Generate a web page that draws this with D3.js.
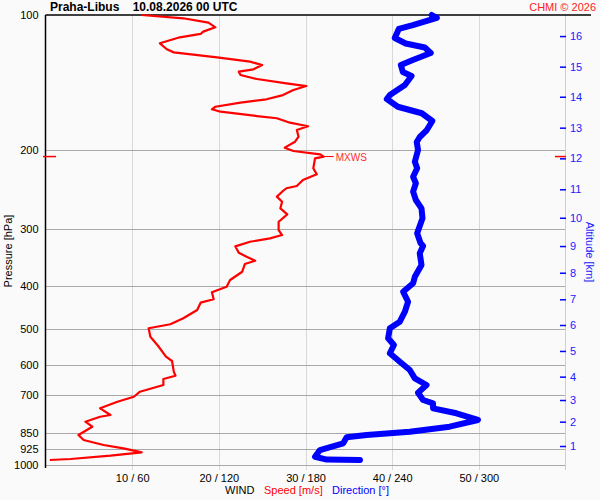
<!DOCTYPE html>
<html>
<head>
<meta charset="utf-8">
<script src="https://cdn.jsdelivr.net/npm/d3@7/dist/d3.min.js"></script>
<style>
  body { margin:0; background:#fafafa; }
  svg { display:block; font-family:"Liberation Sans", Arial, sans-serif; }
</style>
</head>
<body>
<svg width="600" height="500"></svg>
<script>
// wind speed profile: pressure [hPa] / speed [m/s]
var spdP = [100,101.7,104,106.5,108.9,110.2,112.1,115.6,119.2,121.1,124.2,127,129.2,132.1,133.7,136,138.8,141.9,143.9,146.8,
            150.7,154,156.7,160,162.1,164.1,167.8,169.7,173.6,176.8,180.3,186.5,191.4,197.3,200.7,204.2,206.5,208.4,219.3,226.2,
            232.8,240.1,242.9,247.2,253.6,260.2,269.2,277.6,288.4,300.9,308.7,314,319.5,327.1,338,345,352.2,358.1,372.5,388.6,
            402.2,414,429,436.5,453.2,472.9,487.6,497.7,519.6,545,575.7,588.5,621.6,634.5,645.4,665.5,688.7,706.7,725,749.9,
            776.1,782.9,803.1,823.9,859.7,882,904.9,920.4,939.5,955.9,972.2,977.3];
var spdV = [11.1,15.9,18.8,19.6,18.2,17.9,15.5,13.2,14.0,14.8,19.8,23.6,25.0,24.0,22.3,22.5,24.4,27.8,30.1,28.6,
            27.4,25.5,22.5,19.6,19.2,20.2,24.4,26.7,28.2,30.3,29.0,29.2,28.8,27.6,28.6,31.7,32.1,31.1,30.9,31.3,
            29.7,29.0,27.8,27.3,26.7,27.3,27.1,27.9,26.9,26.9,27.3,25.9,23.6,21.9,22.3,23.2,24.2,23.0,22.7,21.3,
            20.9,19.2,19.4,17.9,17.5,15.9,14.4,11.9,12.1,13.0,13.9,14.6,14.8,15.0,13.6,13.6,10.9,10.2,8.3,6.3,
            7.5,6.3,4.6,5.4,3.8,4.4,6.7,9.0,11.1,7.5,2.9,0.5];

// wind direction profile: pressure [hPa] / direction [deg]
var dirP = [100,101.5,105.3,107.4,112.5,115.7,118.1,121.5,125.9,129.2,133.9,136.7,143.1,150.7,153.8,160,165.4,172.1,180.3,186.8,
            191.7,199.7,212.1,219.3,229,236.8,247.2,258,269.2,283.4,305.9,321.6,326.6,338.9,359.9,382.2,395.3,412.7,434.4,457.2,
            481.2,497.7,524,542.2,565.7,590.6,616.4,643.1,665.5,692.3,718.6,731,749.9,769.3,796.1,823.9,845.3,859.7,869.9,897,
            928.5,960.9,975,977.3];
var dirV = [267.4,270.9,254.3,244.6,241.8,249.4,262.6,266.7,254.3,246.0,247.4,253.4,248.8,238.4,236.3,243.9,260.5,267.8,264.0,259.1,
            257.0,257.9,255.7,257.3,254.5,256.4,254.5,256.4,260.3,261.0,257.3,259.6,261.4,259.1,260.3,255.7,254.5,247.6,251.0,248.8,
            245.3,238.4,237.2,241.2,238.4,245.3,252.2,255.7,263.8,257.9,261.4,268.3,268.3,284.5,299.4,279.8,252.2,222.3,208.5,206.1,
            190.0,186.6,194.7,217.7];

var mxwsP = 206.5, mxwsV = 32.1;

var pTicks = [100,200,300,400,500,600,700,850,925,1000];
var speedTicks = [10,20,30,40,50];
var dirTicks = [60,120,180,240,300];
var altKm = [1,2,3,4,5,6,7,8,9,10,11,12,13,14,15,16];
var altP = [909.6,803,718.7,637.6,559,489.4,429,374.4,326.6,282.5,244.2,208.4,178.1,152,130.3,111.4];

var svg = d3.select("svg");
var pl = 45.5, pr = 565.5, pt = 15, pb = 464.5;
var font = "Liberation Sans, Arial, sans-serif";

var x = d3.scaleLinear().domain([0,60]).range([pl,pr]);
var xd = d3.scaleLinear().domain([0,360]).range([pl,pr]);
var y = d3.scaleLog().domain([100,1000]).range([pt,pb]);

svg.append("rect").attr("width",600).attr("height",500).attr("fill","#fafafa");

// vertical grid
svg.selectAll(".vgrid").data(speedTicks).enter().append("line")
   .attr("x1", function(d){ return Math.round(x(d))+0.5; })
   .attr("x2", function(d){ return Math.round(x(d))+0.5; })
   .attr("y1", pt).attr("y2", 470)
   .attr("stroke","#d8d8d8");

// horizontal grid
svg.selectAll(".hgrid").data(pTicks.slice(1)).enter().append("line")
   .attr("x1", pl).attr("x2", pr)
   .attr("y1", function(d){ return Math.round(y(d))+0.5; })
   .attr("y2", function(d){ return Math.round(y(d))+0.5; })
   .attr("stroke","#a8a8a8");

// right axis line
svg.append("line").attr("x1",pr).attr("x2",pr).attr("y1",pt).attr("y2",470).attr("stroke","#cfcfcf");

// left axis
var ga = svg.append("g").attr("transform","translate(" + pl + ",0)")
   .call(d3.axisLeft(y).tickValues(pTicks).tickSize(0).tickPadding(7).tickFormat(d3.format("d")));
ga.select(".domain").remove();
ga.selectAll("text").attr("font-size",11).attr("fill","#000").attr("font-family",font);
svg.append("line").attr("x1",pl).attr("x2",pl).attr("y1",pt).attr("y2",468).attr("stroke","#000").attr("stroke-width",1.5);
svg.append("line").attr("x1",pl).attr("x2",591).attr("y1",pt).attr("y2",pt).attr("stroke","#000").attr("stroke-width",1.5);

// bottom axis
var gb = svg.append("g").attr("transform","translate(0,470)")
   .call(d3.axisBottom(x).tickValues(speedTicks).tickSize(0).tickPadding(4)
   .tickFormat(function(d,i){ return d + " / " + dirTicks[i]; }));
gb.select(".domain").remove();
gb.selectAll("text").attr("font-size",11).attr("fill","#000").attr("font-family",font);

// right altitude axis
var yAlt = d3.scaleOrdinal().domain(altKm).range(altP.map(function(p){ return y(p); }));
var gr = svg.append("g").attr("transform","translate(560,0)")
   .call(d3.axisRight(yAlt).tickSize(6).tickPadding(4));
gr.select(".domain").remove();
gr.selectAll("line").attr("stroke","#0000ff").attr("stroke-width",1.5);
gr.selectAll("text").attr("font-size",11).attr("fill","#2020ff").attr("font-family",font);

// titles
svg.append("text").attr("x",50).attr("y",11).attr("font-size",12).attr("font-weight","bold")
   .attr("xml:space","preserve").text("Praha-Libus    10.08.2026 00 UTC");
svg.append("text").attr("x",596).attr("y",11).attr("font-size",11).attr("fill","#ff2020")
   .attr("text-anchor","end").text("CHMI © 2026");
svg.append("text").attr("transform","translate(12,251) rotate(-90)").attr("text-anchor","middle")
   .attr("font-size",11).text("Pressure [hPa]");
svg.append("text").attr("transform","translate(586,252) rotate(90)").attr("text-anchor","middle")
   .attr("font-size",11).attr("fill","#2020ff").text("Altitude [km]");

svg.append("text").attr("x",225).attr("y",494).attr("font-size",11).attr("fill","#000").text("WIND");
svg.append("text").attr("x",264).attr("y",494).attr("font-size",11).attr("fill","#ff0000").text("Speed [m/s]");
svg.append("text").attr("x",332).attr("y",494).attr("font-size",11).attr("fill","#0000ff").text("Direction [°]");

// direction line
var dirLine = d3.line().x(function(d){ return xd(d[1]); }).y(function(d){ return y(d[0]); });
svg.append("path").datum(d3.zip(dirP, dirV)).attr("d", dirLine)
   .attr("fill","none").attr("stroke","#0000ff").attr("stroke-width",6)
   .attr("stroke-linejoin","round").attr("stroke-linecap","round");

// speed line
var spdLine = d3.line().x(function(d){ return x(d[1]); }).y(function(d){ return y(d[0]); });
svg.append("path").datum(d3.zip(spdP, spdV)).attr("d", spdLine)
   .attr("fill","none").attr("stroke","#ff0000").attr("stroke-width",2.2)
   .attr("stroke-linejoin","round");

// max wind marker
var my = y(mxwsP);
svg.append("line").attr("x1",43).attr("x2",56).attr("y1",my).attr("y2",my).attr("stroke","#ff0000").attr("stroke-width",1.5);
svg.append("line").attr("x1",555).attr("x2",566).attr("y1",my).attr("y2",my).attr("stroke","#ff0000").attr("stroke-width",1.5);
svg.append("line").attr("x1",x(mxwsV)).attr("x2",x(mxwsV)+10).attr("y1",my).attr("y2",my).attr("stroke","#ff0000").attr("stroke-width",1);
svg.append("text").attr("x",x(mxwsV)+12).attr("y",my+4).attr("font-size",10).attr("fill","#ff3030").text("MXWS");
</script>
</body>
</html>
